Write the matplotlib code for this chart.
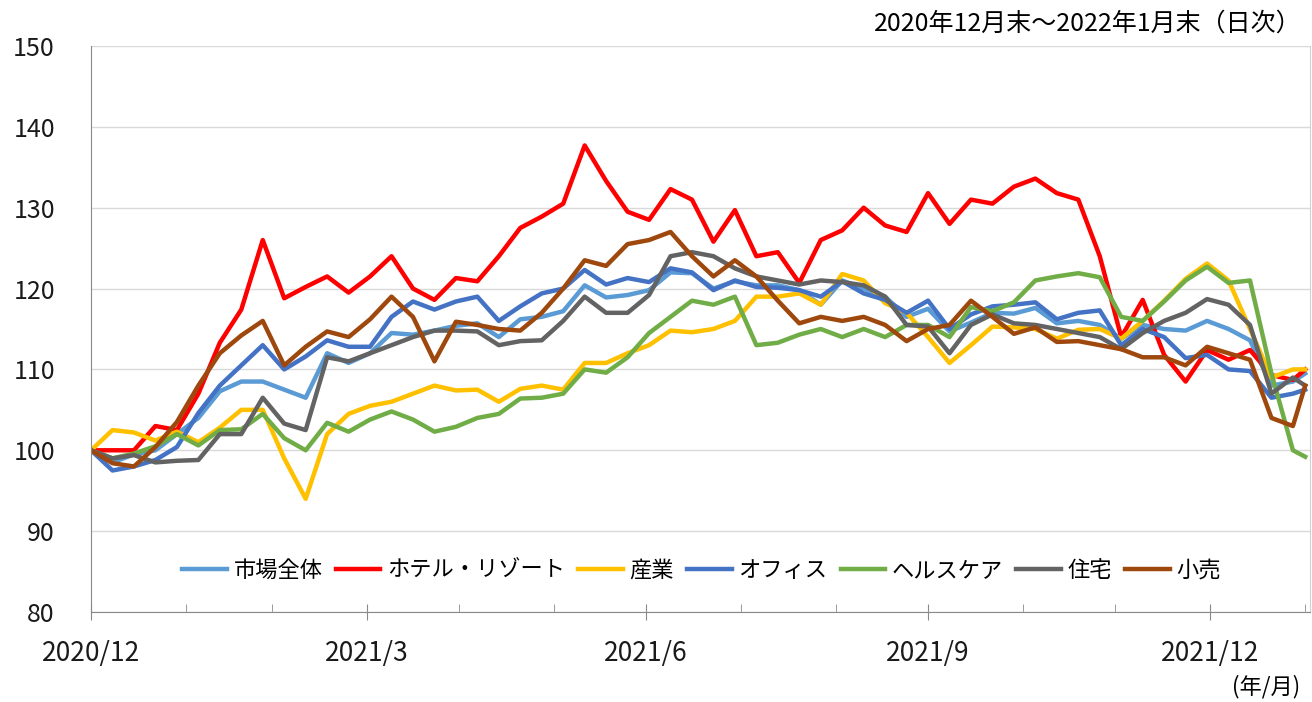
import pandas as pd
import matplotlib
matplotlib.use("Agg")
import matplotlib.pyplot as plt

plt.rcParams['font.family'] = ['Noto Sans CJK JP', 'DejaVu Sans']

# 週次（2020/12/31から7日ごと）＋最終日
dates = list(pd.date_range("2020-12-31", periods=57, freq="7D")) + [pd.Timestamp("2022-01-31")]

names = ["市場全体", "ホテル・リゾート", "産業", "オフィス", "ヘルスケア", "住宅", "小売"]
colors = ["#5B9BD5", "#FF0000", "#FFC000", "#4472C4", "#70AD47", "#636363", "#9E480E"]

market = [100, 98.5, 99.5, 100, 102, 104, 107.3, 108.5, 108.5, 107.5,
          106.5, 112, 110.8, 112, 114.5, 114.3, 114.8, 115.4, 115.7, 114,
          116.2, 116.5, 117.2, 120.4, 118.9, 119.2, 119.8, 122, 121.9, 120,
          120.9, 120.4, 120.4, 119.8, 118, 121, 120, 119, 116.5, 117.5,
          114.7, 115.8, 117, 116.9, 117.6, 115.7, 116, 115.5, 113.8, 115.5,
          115, 114.8, 116, 115, 113.6, 108, 108.5, 109.5]
hotel = [100, 100, 100, 103, 102.5, 107, 113.3, 117.4, 126, 118.8,
         120.2, 121.5, 119.5, 121.5, 124, 120, 118.6, 121.3, 120.9, 124,
         127.5, 128.9, 130.5, 137.7, 133.3, 129.5, 128.5, 132.3, 131, 125.8,
         129.7, 124, 124.5, 120.7, 126, 127.2, 130, 127.8, 127, 131.8,
         128, 131, 130.5, 132.6, 133.6, 131.8, 131, 124, 114, 118.6,
         111.8, 108.5, 112.4, 111.2, 112.4, 109.3, 108.7, 110]
industrial = [100, 102.5, 102.2, 101.2, 102.3, 101, 102.8, 105, 105, 99,
              94, 102, 104.5, 105.5, 106, 107, 108, 107.4, 107.5, 106,
              107.6, 108, 107.5, 110.8, 110.8, 112, 113, 114.8, 114.6, 115,
              116, 119, 119, 119.4, 118, 121.8, 121, 118.2, 117, 114,
              110.8, 113, 115.3, 115.2, 115, 113.8, 114.9, 115, 113.8, 116,
              118.5, 121.2, 123.1, 121, 115, 109, 110, 110]
office = [100, 97.5, 98, 98.8, 100.4, 104.6, 108, 110.5, 113, 110,
          111.6, 113.6, 112.8, 112.8, 116.5, 118.4, 117.4, 118.4, 119, 116,
          117.8, 119.4, 120, 122.3, 120.5, 121.3, 120.8, 122.5, 122, 119.8,
          121, 120.2, 120.1, 119.8, 119, 120.9, 119.4, 118.6, 117, 118.5,
          115, 116.8, 117.8, 118, 118.3, 116.2, 117, 117.3, 113, 115,
          114, 111.4, 111.8, 110, 109.8, 106.5, 107, 107.5]
healthcare = [100, 99, 99.6, 100.5, 102, 100.6, 102.5, 102.6, 104.5, 101.5,
              100, 103.4, 102.3, 103.8, 104.8, 103.8, 102.3, 102.9, 104, 104.5,
              106.4, 106.5, 107, 110, 109.6, 111.5, 114.5, 116.5, 118.5, 118,
              119, 113, 113.3, 114.3, 115, 114, 115, 114, 115.5, 115.5,
              114, 117.7, 117.2, 118.3, 121, 121.5, 121.9, 121.4, 116.5, 116,
              118.4, 121, 122.7, 120.7, 121, 109.5, 100, 99.2]
residential = [100, 99, 99.4, 98.5, 98.7, 98.8, 102, 102, 106.5, 103.3,
               102.5, 111.5, 111, 112, 113, 114, 114.8, 114.8, 114.7, 113,
               113.5, 113.6, 116, 119, 117, 117, 119.2, 124, 124.5, 124,
               122.5, 121.5, 121, 120.5, 121, 120.8, 120.4, 119, 115.5, 115.3,
               112, 115.5, 116.8, 115.7, 115.5, 115, 114.5, 114, 112.5, 114.5,
               116, 117, 118.7, 118, 115.5, 107, 109, 108]
retail = [100, 98.4, 98, 100.4, 103.5, 108, 112, 114.2, 116, 110.5,
          112.8, 114.7, 114, 116.2, 119, 116.5, 111, 115.9, 115.5, 115,
          114.8, 117, 120, 123.5, 122.8, 125.5, 126, 127, 124, 121.5,
          123.5, 121.5, 118.5, 115.7, 116.5, 116, 116.5, 115.5, 113.5, 115,
          115.5, 118.5, 116.5, 114.4, 115.2, 113.4, 113.5, 113, 112.5, 111.5,
          111.5, 110.5, 112.8, 112, 111.2, 104, 103, 108]

series = [market, hotel, industrial, office, healthcare, residential, retail]

major_ticks = pd.to_datetime(["2020-12-31", "2021-03-31", "2021-06-30", "2021-09-30", "2021-12-31"])
major_labels = ["2020/12", "2021/3", "2021/6", "2021/9", "2021/12"]
minor_ticks = pd.to_datetime(["2021-01-31", "2021-02-28", "2021-04-30", "2021-05-31", "2021-07-31",
                              "2021-08-31", "2021-10-31", "2021-11-30", "2022-01-31"])

fig = plt.figure(figsize=(13.12, 7.02), dpi=100)
ax = fig.add_axes([0.0694, 0.1282, 0.9291, 0.8063])

for vals, name, c in zip(series, names, colors):
    ax.plot(dates, vals, color=c, lw=3.2, label=name, solid_joinstyle="round")

ax.set_ylim(80, 150)
ax.set_yticks(range(80, 151, 10))
ax.set_xlim(pd.Timestamp("2020-12-31"), pd.Timestamp("2022-02-01 14:00"))
ax.set_xticks(major_ticks)
ax.set_xticklabels(major_labels)
ax.set_xticks(minor_ticks, minor=True)

ax.grid(axis="y", color="#D9D9D9", lw=1)
ax.set_axisbelow(True)
ax.spines["top"].set_visible(False)
ax.spines["right"].set_color("#D0D0D0")
ax.spines["left"].set_color("#898989")
ax.spines["bottom"].set_color("#898989")

ax.tick_params(axis="x", which="major", direction="inout", length=12, color="#898989",
               pad=14, labelsize=19, labelcolor="#1a1a1a")
ax.tick_params(axis="x", which="minor", direction="in", length=6, color="#898989")
ax.tick_params(axis="y", length=0, pad=26, labelsize=18, labelcolor="#1a1a1a")

ax.legend(loc="center", bbox_to_anchor=(0.501, 0.074), ncol=7, frameon=False, fontsize=16,
          handlelength=2.0, handletextpad=0.3, columnspacing=0.6)

fig.text(0.9924, 0.967, "2020年12月末～2022年1月末（日次）", ha="right", va="center", fontsize=18)
fig.text(0.991, 0.022, "(年/月)", ha="right", va="center", fontsize=16)

fig.savefig("out.png", dpi=100)
